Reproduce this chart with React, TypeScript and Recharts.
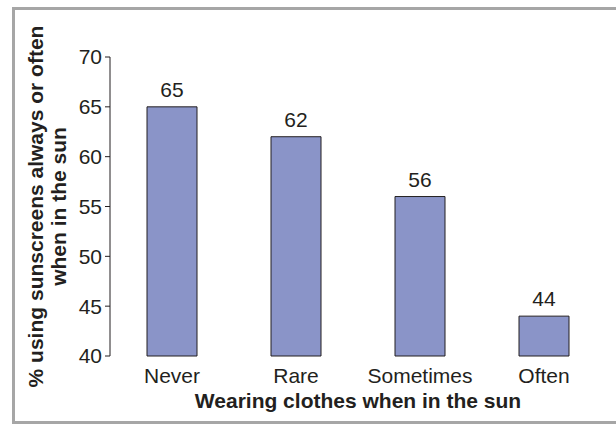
import { Bar, BarChart, Label, LabelList, XAxis, YAxis } from "recharts";

const categories = ["Never", "Rare", "Sometimes", "Often"];
const percentUsing = [65, 62, 56, 44];
const yTicks = [40, 45, 50, 55, 60, 65, 70];
const edgeTicks = [0, 1, 2, 3, 4];

const data = categories.map((name, i) => ({ name, value: percentUsing[i] }));

const FONT = "'Liberation Sans', Arial, Helvetica, sans-serif";
const INK = "#231f20";

function YTitle({ viewBox }: any) {
  const cy = viewBox.y + viewBox.height / 2;
  const cx = 43;
  return (
    <g transform={`rotate(-90, ${cx}, ${cy})`}>
      <text
        x={cx}
        y={cy}
        textAnchor="middle"
        fontFamily={FONT}
        fontSize={21}
        fontWeight="bold"
        fill={INK}
      >
        <tspan x={cx} dy={0}>
          % using sunscreens always or often
        </tspan>
        <tspan x={cx} dy={23}>
          when in the sun
        </tspan>
      </text>
    </g>
  );
}

function XTitle({ viewBox }: any) {
  return (
    <text
      x={viewBox.x + viewBox.width / 2}
      y={viewBox.y + 52}
      textAnchor="middle"
      fontFamily={FONT}
      fontSize={21}
      fontWeight="bold"
      fill={INK}
    >
      Wearing clothes when in the sun
    </text>
  );
}

export default function App() {
  return (
    <div
      style={{
        position: "absolute",
        top: 0,
        left: 0,
        width: 616,
        height: 426,
        overflow: "hidden",
        background: "#fff",
      }}
    >
      <div
        style={{
          position: "absolute",
          left: 12,
          top: 7,
          width: 620,
          height: 417,
          boxSizing: "border-box",
          borderTop: "3px solid #a6a6a6",
          borderLeft: "3px solid #a6a6a6",
          borderBottom: "3px solid #a6a6a6",
        }}
      />
      <BarChart
        width={616}
        height={426}
        data={data}
        margin={{ top: 57, right: 10, bottom: 0, left: 0 }}
        style={{ position: "absolute", top: 0, left: 0 }}
      >
        <XAxis
          xAxisId="edge"
          type="number"
          domain={[0, 4]}
          ticks={edgeTicks}
          tick={false}
          tickSize={5}
          height={0}
          axisLine={{ stroke: INK }}
          tickLine={{ stroke: INK }}
        />
        <XAxis
          dataKey="name"
          height={70}
          axisLine={false}
          tickLine={false}
          tickSize={5}
          tickMargin={7}
          tick={{ fontFamily: FONT, fontSize: 21, fill: INK }}
        >
          <Label content={<XTitle />} />
        </XAxis>
        <YAxis
          width={110}
          domain={[40, 70]}
          ticks={yTicks}
          interval={0}
          tickSize={5}
          tickMargin={3}
          axisLine={{ stroke: INK }}
          tickLine={{ stroke: INK }}
          tick={{ fontFamily: FONT, fontSize: 21, fill: INK }}
        >
          <Label content={<YTitle />} />
        </YAxis>
        <Bar
          dataKey="value"
          barSize={50}
          fill="#8a94c8"
          stroke={INK}
          strokeWidth={1}
          isAnimationActive={false}
        >
          <LabelList
            dataKey="value"
            position="top"
            offset={10}
            fontFamily={FONT}
            fontSize={21}
            fill={INK}
          />
        </Bar>
      </BarChart>
    </div>
  );
}
